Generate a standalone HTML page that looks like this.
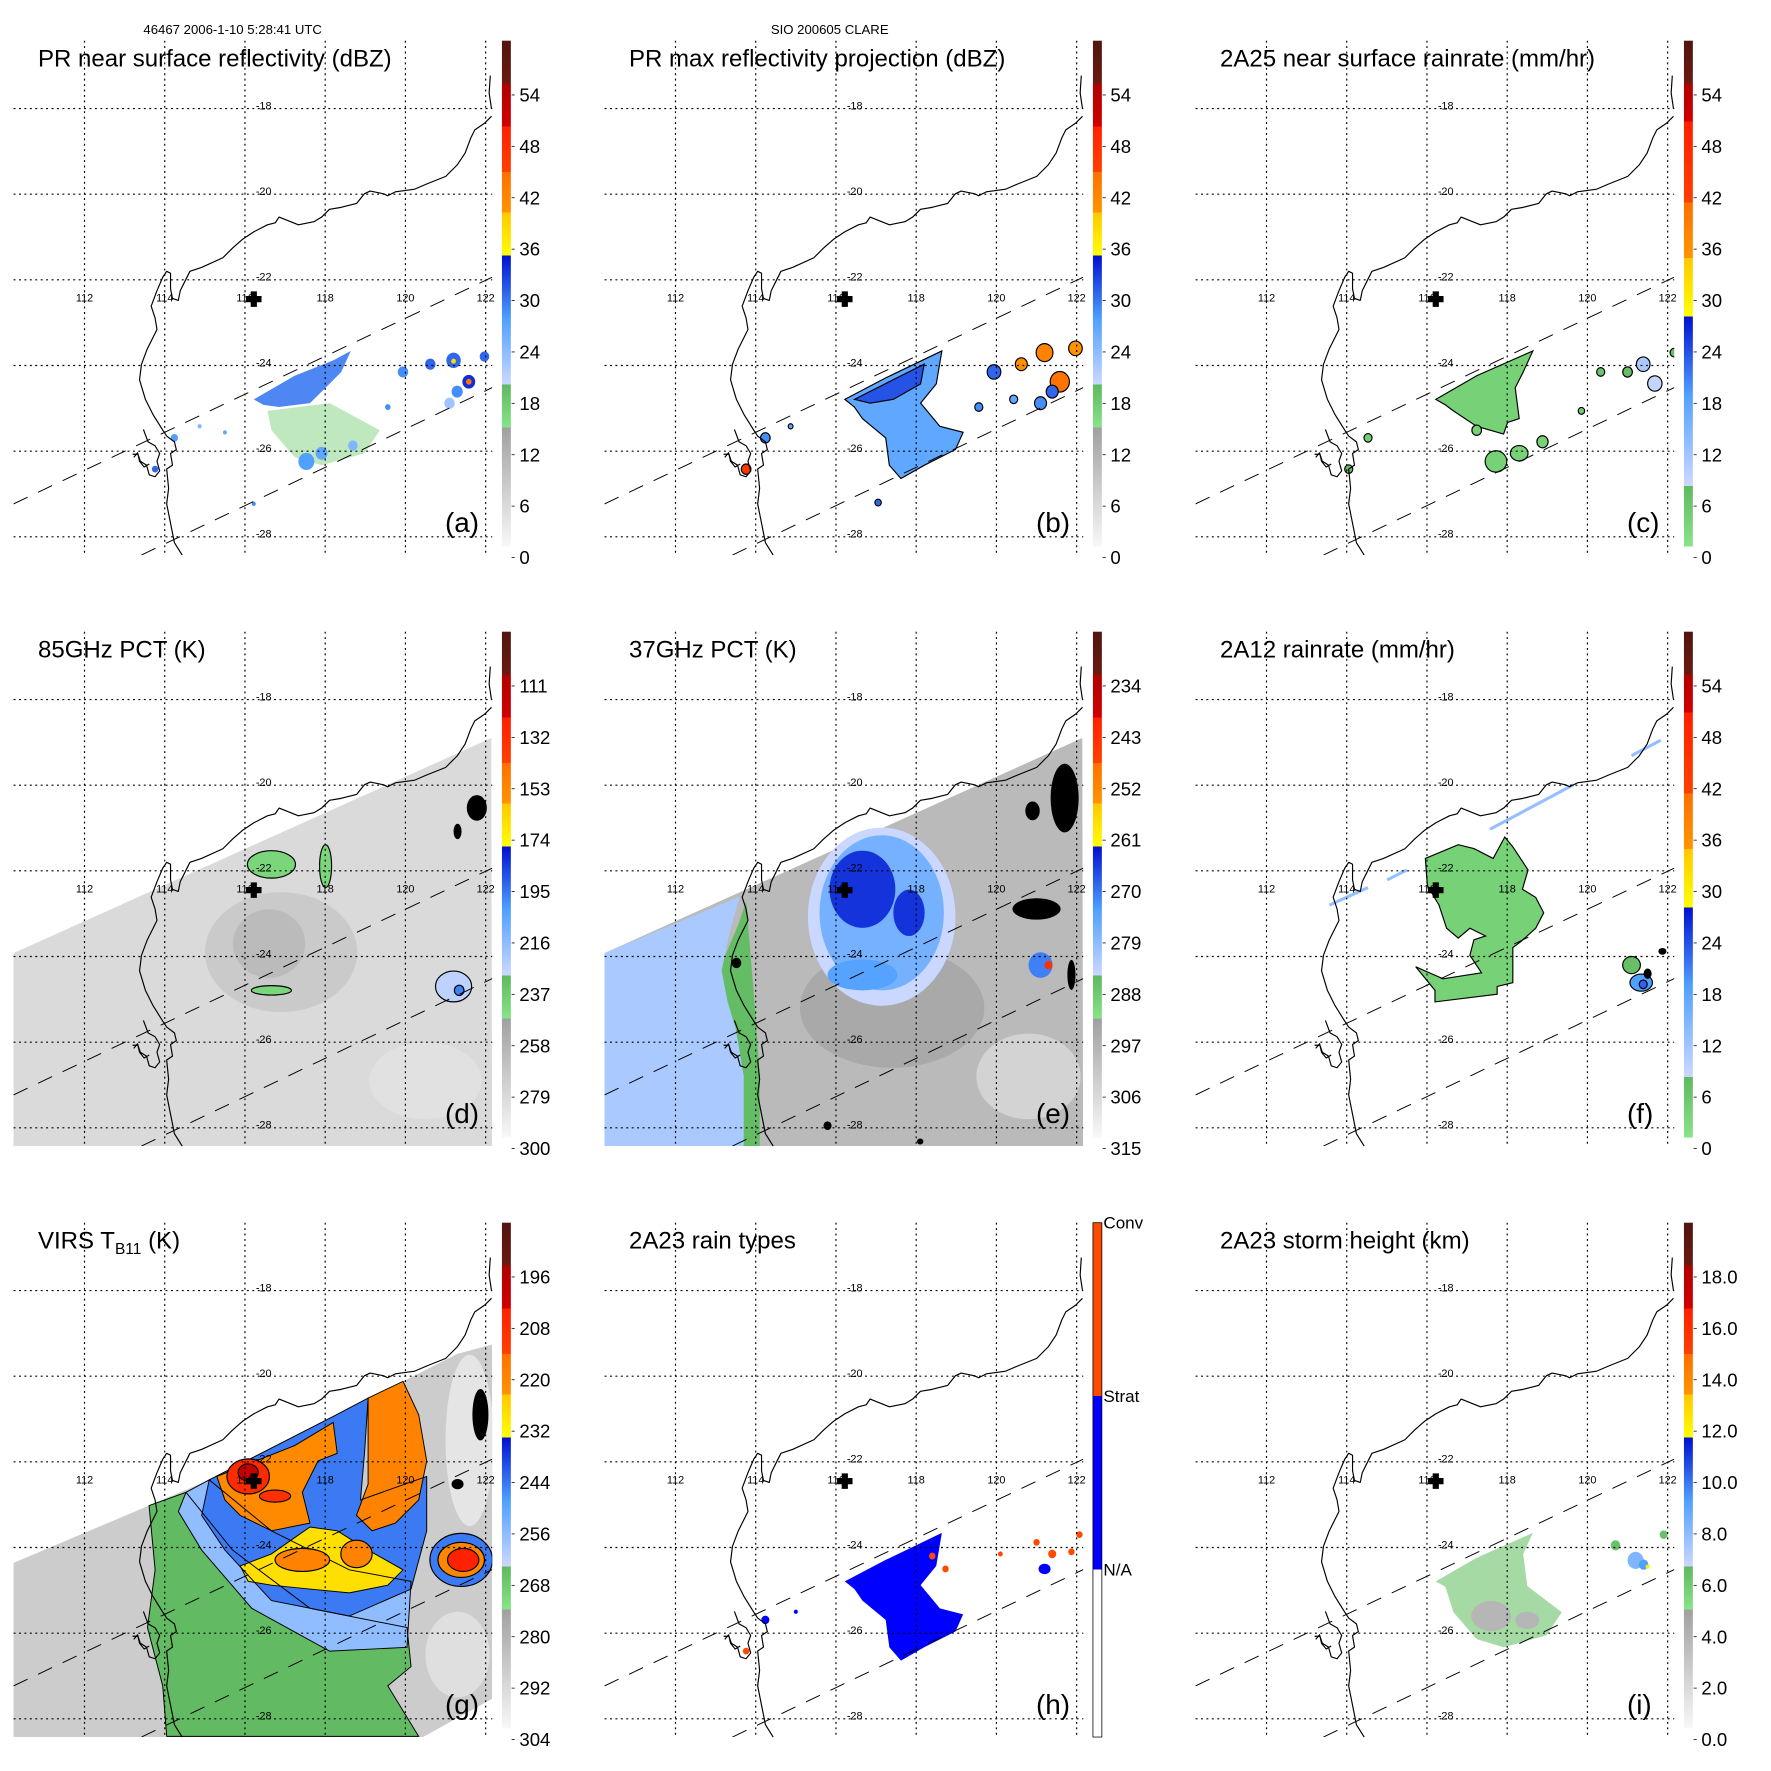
<!DOCTYPE html>
<html><head><meta charset="utf-8"><title>TRMM CLARE panels</title>
<style>
html,body{margin:0;padding:0;background:#fff;}
#root{position:relative;width:1771px;height:1771px;overflow:hidden;background:#fff;font-family:"Liberation Sans",sans-serif;}
</style></head>
<body>
<div id="root"></div>
<script>
// ===== DATA (lon, lat, values) =====
const lonTicks=[112,114,116,118,120,122];
const latTicks=[-18,-20,-22,-24,-26,-28];
const crossPos=[116.22,-22.45];
const ticksA=['54','48','42','36','30','24','18','12','6','0'];
const ticksD=['111','132','153','174','195','216','237','258','279','300'];
const ticksE=['234','243','252','261','270','279','288','297','306','315'];
const ticksG=['196','208','220','232','244','256','268','280','292','304'];
const ticksI=['18.0','16.0','14.0','12.0','10.0','8.0','6.0','4.0','2.0','0.0'];
const ticksH=['Conv','Strat','N/A'];

// polygons: [value, opacity, [[lon,lat],...]] ; blobs: [lon,lat,rxDeg,ryDeg,value]  (value -999 = black)
const aPolys=[
 [17,0.45,[[116.56,-25.06],[118.11,-24.88],[119.36,-25.51],[118.98,-26.05],[117.91,-26.33],[117.24,-26.14],[116.66,-25.51]]],
 [29,0.9,[[116.22,-24.79],[117.24,-24.24],[118.2,-23.88],[118.64,-23.66],[118.4,-24.15],[118.01,-24.52],[117.62,-24.88],[116.85,-24.97],[116.46,-24.92]]]
];
const aBlobs=[[117.53,-26.24,0.2,0.2,27],[117.91,-26.05,0.15,0.15,26],[118.69,-25.87,0.12,0.12,24],[119.94,-24.15,0.13,0.13,28],[120.62,-23.97,0.13,0.13,30],[121.2,-23.88,0.18,0.18,30],[121.2,-23.9,0.06,0.06,38],[121.58,-24.38,0.16,0.16,33],[121.58,-24.38,0.07,0.07,44],[121.29,-24.61,0.14,0.14,28],[121.97,-23.79,0.12,0.12,30],[121.1,-24.88,0.13,0.13,22],[119.56,-24.97,0.07,0.07,28],[114.24,-25.69,0.09,0.09,27],[114.87,-25.42,0.05,0.05,24],[115.5,-25.56,0.05,0.05,26],[113.76,-26.42,0.08,0.08,30],[116.22,-27.23,0.05,0.05,28]];

const bPolys=[
 [26,1,[[116.22,-24.79],[117.24,-24.29],[118.64,-23.66],[118.5,-24.43],[118.11,-24.88],[118.59,-25.42],[119.17,-25.56],[118.98,-25.96],[118.2,-26.33],[117.62,-26.64],[117.33,-26.33],[117.24,-25.69],[116.66,-25.24],[116.46,-24.97]]],
 [31,1,[[116.46,-24.79],[117.43,-24.33],[118.2,-23.97],[118.11,-24.43],[117.43,-24.79],[116.85,-24.88]]]
];
const bBlobs=[[119.94,-24.15,0.17,0.17,30],[120.62,-23.97,0.15,0.15,40],[121.2,-23.7,0.21,0.21,42],[121.58,-24.38,0.24,0.24,44],[121.39,-24.61,0.15,0.15,30],[121.97,-23.6,0.17,0.17,40],[121.1,-24.88,0.15,0.15,28],[119.56,-24.97,0.1,0.1,28],[120.43,-24.79,0.1,0.1,26],[114.24,-25.69,0.12,0.12,28],[113.76,-26.42,0.12,0.12,46],[114.87,-25.42,0.06,0.06,26],[117.05,-27.2,0.08,0.08,30]];

const cPolys=[
 [3,1,[[116.22,-24.79],[117.24,-24.24],[118.64,-23.66],[118.4,-24.15],[118.2,-24.52],[118.3,-25.24],[118.01,-25.33],[117.91,-25.6],[117.24,-25.42],[116.66,-25.06],[116.46,-24.92]]]
];
const cBlobs=[[117.72,-26.24,0.27,0.25,3],[118.3,-26.05,0.22,0.18,3],[118.88,-25.78,0.14,0.14,3],[117.24,-25.51,0.12,0.12,3],[121.39,-23.97,0.17,0.17,10],[121.68,-24.42,0.18,0.18,8],[121.0,-24.15,0.12,0.12,6],[120.33,-24.15,0.1,0.1,5],[122.16,-23.7,0.1,0.1,6],[119.85,-25.06,0.08,0.08,4],[114.53,-25.69,0.1,0.1,4],[114.05,-26.42,0.1,0.1,6]];

const tmiSwath=[[110.21,-23.93],[122.14,-18.9],[122.16,-28.43],[110.21,-28.43]];
const dPolys=[[283,1,tmiSwath]];
const dBlobs=[[116.9,-23.9,1.9,1.4,274],[116.6,-23.7,0.9,0.8,266],[120.5,-26.9,1.4,0.9,287],[116.66,-21.85,0.6,0.32,245],[118.01,-21.89,0.15,0.5,245],[116.66,-24.79,0.5,0.11,245],[121.2,-24.7,0.45,0.36,230],[121.34,-24.79,0.12,0.12,200],[121.78,-20.53,0.25,0.3,-999],[121.3,-21.08,0.1,0.18,-999]];

const ePolys=[
 [300,1,tmiSwath],
 [287,1,[[113.57,-23.25],[113.76,-22.71],[114.0,-25.42],[114.1,-26.78],[114.1,-28.43],[113.6,-28.43],[113.4,-27.23],[113.0,-25.87],[112.95,-24.97],[113.2,-24.06]]],
 [283,1,[[110.21,-23.93],[113.6,-22.6],[113.35,-23.43],[113.15,-24.33],[113.3,-25.06],[113.5,-25.69],[113.7,-26.78],[113.7,-28.43],[110.21,-28.43]]]
];
const eBlobs=[[117.4,-25.2,2.3,1.4,296],[120.8,-26.8,1.3,1.0,306],[117.14,-23.07,1.84,2.08,286],[117.14,-22.98,1.55,1.81,278],[116.66,-22.43,0.82,0.9,266],[117.82,-22.98,0.39,0.54,266],[116.66,-24.43,0.87,0.36,275],[121.1,-24.2,0.3,0.3,272],[121.3,-24.2,0.1,0.1,245],[121.7,-20.3,0.35,0.8,-999],[120.9,-20.6,0.18,0.22,-999],[121.0,-22.89,0.6,0.25,-999],[121.87,-24.43,0.1,0.35,-999],[113.52,-24.15,0.12,0.12,-999],[115.79,-27.95,0.1,0.1,-999],[118.1,-28.32,0.08,0.07,-999]];

const fPolys=[
 [3,1,[[115.96,-21.71],[116.78,-21.39],[117.17,-21.48],[117.65,-21.71],[117.94,-21.21],[118.14,-21.44],[118.52,-21.98],[118.38,-22.43],[118.71,-22.62],[118.91,-22.98],[118.71,-23.34],[118.33,-23.66],[118.14,-23.79],[118.14,-24.61],[117.75,-24.7],[117.75,-24.88],[116.2,-25.06],[116.2,-24.79],[115.72,-24.24],[116.4,-24.52],[117.36,-24.38],[117.07,-23.97],[117.17,-23.61],[117.46,-23.52],[117.07,-23.34],[116.78,-23.57],[116.49,-23.34],[116.3,-22.8],[116.01,-22.34]]]
];
const fBlobs=[[121.1,-24.2,0.22,0.2,6],[121.34,-24.61,0.28,0.2,18],[121.39,-24.65,0.1,0.1,22],[121.87,-23.88,0.1,0.08,-999],[121.5,-24.4,0.1,0.12,-999]];
const fStreaks=[[113.57,-22.8,114.53,-22.39],[115.01,-22.21,115.5,-21.98],[117.57,-21.03,119.65,-19.99],[121.1,-19.31,121.83,-18.95]];

const gPolys=[
 [290,1,[[110.23,-24.36],[113.61,-23.02],[115.11,-22.42],[118.2,-20.94],[119.94,-20.12],[121.29,-19.48],[122.16,-19.26],[122.16,-27.53],[120.43,-28.43],[110.23,-28.43]]],
 [266,1,[[113.61,-23.02],[114.53,-22.71],[115.69,-24.06],[117.62,-25.42],[120.04,-25.87],[120.14,-26.78],[119.56,-27.23],[120.33,-28.41],[114.05,-28.41],[113.95,-27.23],[113.57,-25.87],[113.76,-24.52]]],
 [258,1,[[114.53,-22.71],[115.11,-22.42],[116.66,-23.61],[118.6,-24.52],[120.14,-24.79],[120.04,-26.33],[118.11,-26.42],[116.17,-25.42],[114.92,-24.06],[114.34,-23.16]]],
 [246,1,[[115.11,-22.42],[118.2,-20.94],[119.07,-20.51],[118.98,-21.8],[118.88,-22.89],[120.53,-22.34],[120.53,-23.61],[120.14,-24.97],[118.6,-25.6],[116.66,-25.24],[115.5,-24.06],[114.92,-23.25]]],
 [222,1,[[115.3,-22.34],[117.24,-21.62],[118.2,-21.08],[118.3,-21.8],[117.82,-21.98],[117.43,-22.71],[117.62,-23.43],[116.66,-23.61],[115.88,-23.25],[115.5,-22.89]]],
 [220,1,[[119.07,-20.51],[119.94,-20.12],[120.33,-20.9],[120.53,-21.98],[120.33,-22.89],[119.75,-23.43],[119.17,-23.61],[118.78,-23.25],[119.07,-22.52],[119.07,-21.62]]],
 [229,1,[[115.88,-24.43],[116.66,-24.15],[117.62,-23.52],[118.3,-23.61],[119.07,-24.06],[119.94,-24.52],[119.56,-24.88],[118.6,-25.06],[117.62,-24.97],[116.66,-24.88],[116.08,-24.79]]]
];
const gBlobs=[[121.6,-21.5,0.6,2.0,298],[121.3,-26.5,0.8,1.0,296],[121.87,-20.9,0.2,0.6,-999],[121.3,-22.52,0.15,0.12,-999],[117.43,-24.29,0.68,0.27,220],[118.78,-24.15,0.39,0.32,220],[116.08,-22.34,0.53,0.41,208],[116.08,-22.25,0.25,0.2,200],[116.75,-22.8,0.39,0.14,210],[121.39,-24.29,0.78,0.62,246],[121.39,-24.29,0.58,0.41,221],[121.44,-24.29,0.39,0.27,205]];

const hPolys=[
 [1,1,[[116.22,-24.79],[117.24,-24.29],[118.64,-23.66],[118.5,-24.43],[118.11,-24.88],[118.59,-25.42],[119.17,-25.56],[118.98,-25.96],[118.2,-26.33],[117.62,-26.64],[117.33,-26.33],[117.24,-25.69],[116.66,-25.24],[116.46,-24.97]]]
];
const hBlobs=[[118.4,-24.2,0.08,0.08,2],[118.73,-24.5,0.08,0.08,2],[121.0,-23.88,0.08,0.08,2],[121.39,-24.15,0.1,0.1,2],[121.87,-24.1,0.08,0.08,2],[122.07,-23.7,0.08,0.08,2],[120.1,-24.15,0.06,0.06,2],[113.76,-26.42,0.08,0.08,2],[114.24,-25.69,0.1,0.1,1],[121.2,-24.5,0.15,0.12,1],[115.0,-25.5,0.05,0.05,1]];

const iPolys=[
 [6,0.6,[[116.22,-24.79],[117.24,-24.24],[118.64,-23.66],[118.4,-24.15],[118.5,-24.9],[119.36,-25.51],[118.98,-26.05],[117.91,-26.33],[117.24,-26.14],[116.66,-25.51],[116.46,-24.92]]]
];
const iBlobs=[[117.6,-25.6,0.5,0.35,3.5],[118.5,-25.7,0.3,0.2,3.5],[121.2,-24.3,0.2,0.2,8],[121.4,-24.4,0.12,0.12,9],[121.5,-24.45,0.05,0.05,12],[120.7,-23.95,0.12,0.12,6],[121.9,-23.7,0.1,0.1,6]];

// ===== colormaps =====
const cmA=[[0,'#f8f8f8'],[0.235,'#a0a0a0'],[0.235,'#88e488'],[0.32,'#60b860'],[0.32,'#ccd8ff'],[0.45,'#50a0ff'],[0.575,'#0010d0'],[0.575,'#ffff00'],[0.66,'#ffc800'],[0.66,'#ff9400'],[0.74,'#ff7000'],[0.74,'#ff4000'],[0.83,'#ff2000'],[0.83,'#d00000'],[0.915,'#b00000'],[0.915,'#6a1a10'],[1,'#501510']];
const cmC=[[0,'#88e488'],[0.12,'#60b860'],[0.12,'#ccd8ff'],[0.3,'#50a0ff'],[0.455,'#0010d0'],[0.455,'#ffff00'],[0.57,'#ffc800'],[0.57,'#ff9400'],[0.68,'#ff7000'],[0.68,'#ff4000'],[0.84,'#ff2000'],[0.84,'#d00000'],[0.915,'#b00000'],[0.915,'#6a1a10'],[1,'#501510']];
const cmH=[[0,'#ffffff'],[0.326,'#ffffff'],[0.326,'#0000ff'],[0.663,'#0000ff'],[0.663,'#ff4a00'],[1,'#ff4a00']];

function hex2rgb(h){return [parseInt(h.substr(1,2),16),parseInt(h.substr(3,2),16),parseInt(h.substr(5,2),16)];}
function cmap(stops,f){
  f=Math.max(0,Math.min(1,f));
  for(let i=0;i<stops.length-1;i++){
    const a=stops[i],b=stops[i+1];
    if(b[0]>a[0] && f>=a[0] && f<=b[0]){
      const t=(f-a[0])/(b[0]-a[0]);const ca=hex2rgb(a[1]),cb=hex2rgb(b[1]);
      return 'rgb('+ca.map((v,k)=>Math.round(v+(cb[k]-v)*t)).join(',')+')';
    }
  }
  return stops[stops.length-1][1];
}

const panels=[
 {id:'a',col:0,row:0,title:'PR near surface reflectivity (dBZ)',cm:cmA,frac:v=>v/60,ticks:ticksA,polys:aPolys,blobs:aBlobs,outline:false,label:'(a)'},
 {id:'b',col:1,row:0,title:'PR max reflectivity projection (dBZ)',cm:cmA,frac:v=>v/60,ticks:ticksA,polys:bPolys,blobs:bBlobs,outline:true,label:'(b)'},
 {id:'c',col:2,row:0,title:'2A25 near surface rainrate (mm/hr)',cm:cmC,frac:v=>v/60,ticks:ticksA,polys:cPolys,blobs:cBlobs,outline:true,label:'(c)'},
 {id:'d',col:0,row:1,title:'85GHz PCT (K)',cm:cmA,frac:v=>(300-v)/210,ticks:ticksD,polys:dPolys,blobs:dBlobs,outline:false,label:'(d)',cellOutline:250},
 {id:'e',col:1,row:1,title:'37GHz PCT (K)',cm:cmA,frac:v=>(315-v)/90,ticks:ticksE,polys:ePolys,blobs:eBlobs,outline:false,label:'(e)'},
 {id:'f',col:2,row:1,title:'2A12 rainrate (mm/hr)',cm:cmC,frac:v=>v/60,ticks:ticksA,polys:fPolys,blobs:fBlobs,outline:true,label:'(f)'},
 {id:'g',col:0,row:2,title:'VIRS',cm:cmA,frac:v=>(304-v)/120,ticks:ticksG,polys:gPolys,blobs:gBlobs,outline:false,label:'(g)',cellOutline:270},
 {id:'h',col:1,row:2,title:'2A23 rain types',cm:cmH,frac:v=>v/3+0.16,ticks:ticksH,polys:hPolys,blobs:hBlobs,outline:false,label:'(h)'},
 {id:'i',col:2,row:2,title:'2A23 storm height (km)',cm:cmA,frac:v=>v/20,ticks:ticksI,polys:iPolys,blobs:iBlobs,outline:false,label:'(i)'}
];

// ===== drawing =====
const NS='http://www.w3.org/2000/svg';
const root=document.getElementById('root');
function mk(parent,tag,attrs){const e=document.createElementNS(NS,tag);for(const k in attrs)e.setAttribute(k,attrs[k]);parent.appendChild(e);return e;}
const X=lon=>218+(lon-112)*103.5;
const Y=lat=>280+(-18-lat)*110.5;
const MX0=35,MX1=1270,MY0=105,MY1=1432;
const coastMain='M1268,300 L1250,318 L1225,335 L1215,355 L1200,395 L1180,425 L1150,455 L1100,475 L1070,488 L1020,495 L1000,505 L990,500 L955,493 L940,500 L920,525 L880,535 L850,540 L830,560 L810,572 L770,580 L745,570 L720,560 L710,575 L690,580 L655,598 L625,618 L600,640 L575,665 L520,690 L490,700 L480,720 L465,750 L460,775 L445,770 L440,745 L440,705 L430,700 L420,715 L405,750 L390,790 L400,820 L405,850 L380,900 L365,940 L360,980 L375,1030 L395,1070 L420,1110 L430,1125 L450,1140 L455,1160 L440,1170 L445,1200 L430,1210 L435,1260 L430,1300 L440,1350 L450,1400 L470,1432 M1265,195 L1262,240 L1268,280 M370,1108 L382,1140 L400,1150 L412,1170 L405,1190 L412,1215 L400,1230 L385,1225 L378,1200 L362,1190 L356,1172 L342,1172 M345,1180 L355,1168 L360,1190 L372,1205 L385,1197';

function colorOf(p,v){return v===-999?'#000':cmap(p.cm,p.frac(v));}

panels.forEach(p=>{
  const svg=mk(root,'svg',{width:600,height:600,viewBox:'0 0 1548 1548',style:'position:absolute;left:'+(p.col*591)+'px;top:'+(p.row*591)+'px;overflow:hidden'});
  
  
  const defs=mk(svg,'defs',{});
  const cp=mk(defs,'clipPath',{id:'clip'+p.id});
  mk(cp,'rect',{x:MX0,y:MY0,width:MX1-MX0,height:MY1-MY0});
  const lg=mk(defs,'linearGradient',{id:'grad'+p.id,x1:0,y1:1,x2:0,y2:0});
  p.cm.forEach(s=>mk(lg,'stop',{offset:s[0],'stop-color':s[1]}));

  const data=mk(svg,'g',{'clip-path':'url(#clip'+p.id+')'});
  
  
  const sw=3;
  p.polys.forEach(pl=>{
    const el=mk(data,'polygon',{points:pl[2].map(q=>X(q[0]).toFixed(1)+','+Y(q[1]).toFixed(1)).join(' '),fill:colorOf(p,pl[0]),'fill-opacity':pl[1],stroke:p.outline&&pl[1]===1?'#000':'none','stroke-width':sw});
    
    
  });
  if(p.id==='g'){
    p.polys.slice(1).forEach(pl=>{
      const el=mk(data,'polygon',{points:pl[2].map(q=>X(q[0]).toFixed(1)+','+Y(q[1]).toFixed(1)).join(' '),fill:'none',stroke:'#000','stroke-width':2.5});
      
      
    });
  }
  p.blobs.forEach(b=>{
    let outl=p.outline&&b[4]!==-999;
    if(p.cellOutline!==undefined) outl=b[4]!==-999&&b[4]<p.cellOutline;
    const el=mk(data,'ellipse',{cx:X(b[0]).toFixed(1),cy:Y(b[1]).toFixed(1),rx:(b[2]*103.5).toFixed(1),ry:(b[3]*110.5).toFixed(1),fill:colorOf(p,b[4]),stroke:outl?'#000':'none','stroke-width':sw});
    
    
  });
  if(p.id==='f'){
    fStreaks.forEach(s=>{
      const el=mk(data,'line',{x1:X(s[0]),y1:Y(s[1]),x2:X(s[2]),y2:Y(s[3]),stroke:colorOf(p,12),'stroke-width':8});
      
      
    });
  }
  const coast=mk(svg,'path',{d:coastMain,fill:'none',stroke:'#000','stroke-width':3,'stroke-linejoin':'round'});
  
  
  const grid=mk(svg,'g',{stroke:'#000','stroke-width':3,'stroke-dasharray':'5 9'});
  
  
  lonTicks.forEach(l=>mk(grid,'line',{x1:X(l),y1:MY0,x2:X(l),y2:MY1}));
  latTicks.forEach(l=>mk(grid,'line',{x1:MX0,y1:Y(l),x2:MX1,y2:Y(l)}));
  const sg=mk(svg,'g',{stroke:'#000','stroke-width':2.5,'stroke-dasharray':'40 30','clip-path':'url(#clip'+p.id+')'});
  
  
  mk(sg,'line',{x1:35,y1:1300,x2:1270,y2:715});
  mk(sg,'line',{x1:365,y1:1432,x2:1270,y2:1000});
  const tl=mk(svg,'g',{'font-family':'Liberation Sans, sans-serif','font-size':28,fill:'#000'});
  lonTicks.forEach(l=>{const t=mk(tl,'text',{x:X(l),y:778,'text-anchor':'middle'});t.textContent=String(l);
    
    });
  latTicks.forEach(l=>{const t=mk(tl,'text',{x:660,y:Y(l)+2});t.textContent=String(l);
    
    });
  const cr=mk(svg,'path',{d:'M-8,-20 h16 v12 h12 v16 h-12 v12 h-16 v-12 h-12 v-16 h12z',transform:'translate('+X(crossPos[0])+','+Y(crossPos[1])+')',fill:'#000'});
  
  
  const tt=mk(svg,'text',{x:98,y:172,'font-family':'Liberation Sans, sans-serif','font-size':62,fill:'#000'});
  
  
  if(p.id==='g'){
    tt.textContent='VIRS T';
    const s1=mk(tt,'tspan',{'font-size':40,dy:14});s1.textContent='B11';
    const s2=mk(tt,'tspan',{dy:-14});s2.textContent=' (K)';
  } else tt.textContent=p.title;
  const pl=mk(svg,'text',{x:1148,y:1372,'font-family':'Liberation Sans, sans-serif','font-size':72,fill:'#000'});
  pl.textContent=p.label;
  
  
  const cb=mk(svg,'rect',{x:1295,y:105,width:23,height:p.id==='h'?1327:1305,fill:'url(#grad'+p.id+')',stroke:p.id==='h'?'#000':'none','stroke-width':2});
  
  
  if(p.id==='h'){
    const ys=[120,567,1015];
    p.ticks.forEach((s,i)=>{const t=mk(svg,'text',{x:1322,y:ys[i],'font-family':'Liberation Sans, sans-serif','font-size':44,fill:'#000'});t.textContent=s;
      
      });
  } else {
    p.ticks.forEach((s,i)=>{
      const yc=245+i*132.6;
      mk(svg,'line',{x1:1320,y1:yc,x2:1328,y2:yc,stroke:'#000','stroke-width':2});
      const t=mk(svg,'text',{x:1340,y:yc+17,'font-family':'Liberation Sans, sans-serif','font-size':48,fill:'#000'});
      t.textContent=s;
      
      
    });
  }
  if(p.id==='a'){const h=mk(svg,'text',{x:370,y:88,'font-family':'Liberation Sans, sans-serif','font-size':34,fill:'#000'});h.textContent='46467 2006-1-10 5:28:41 UTC';
    
    }
  if(p.id==='b'){const h=mk(svg,'text',{x:464,y:88,'font-family':'Liberation Sans, sans-serif','font-size':34,fill:'#000'});h.textContent='SIO 200605 CLARE';
    
    }
});
</script>
</body></html>
